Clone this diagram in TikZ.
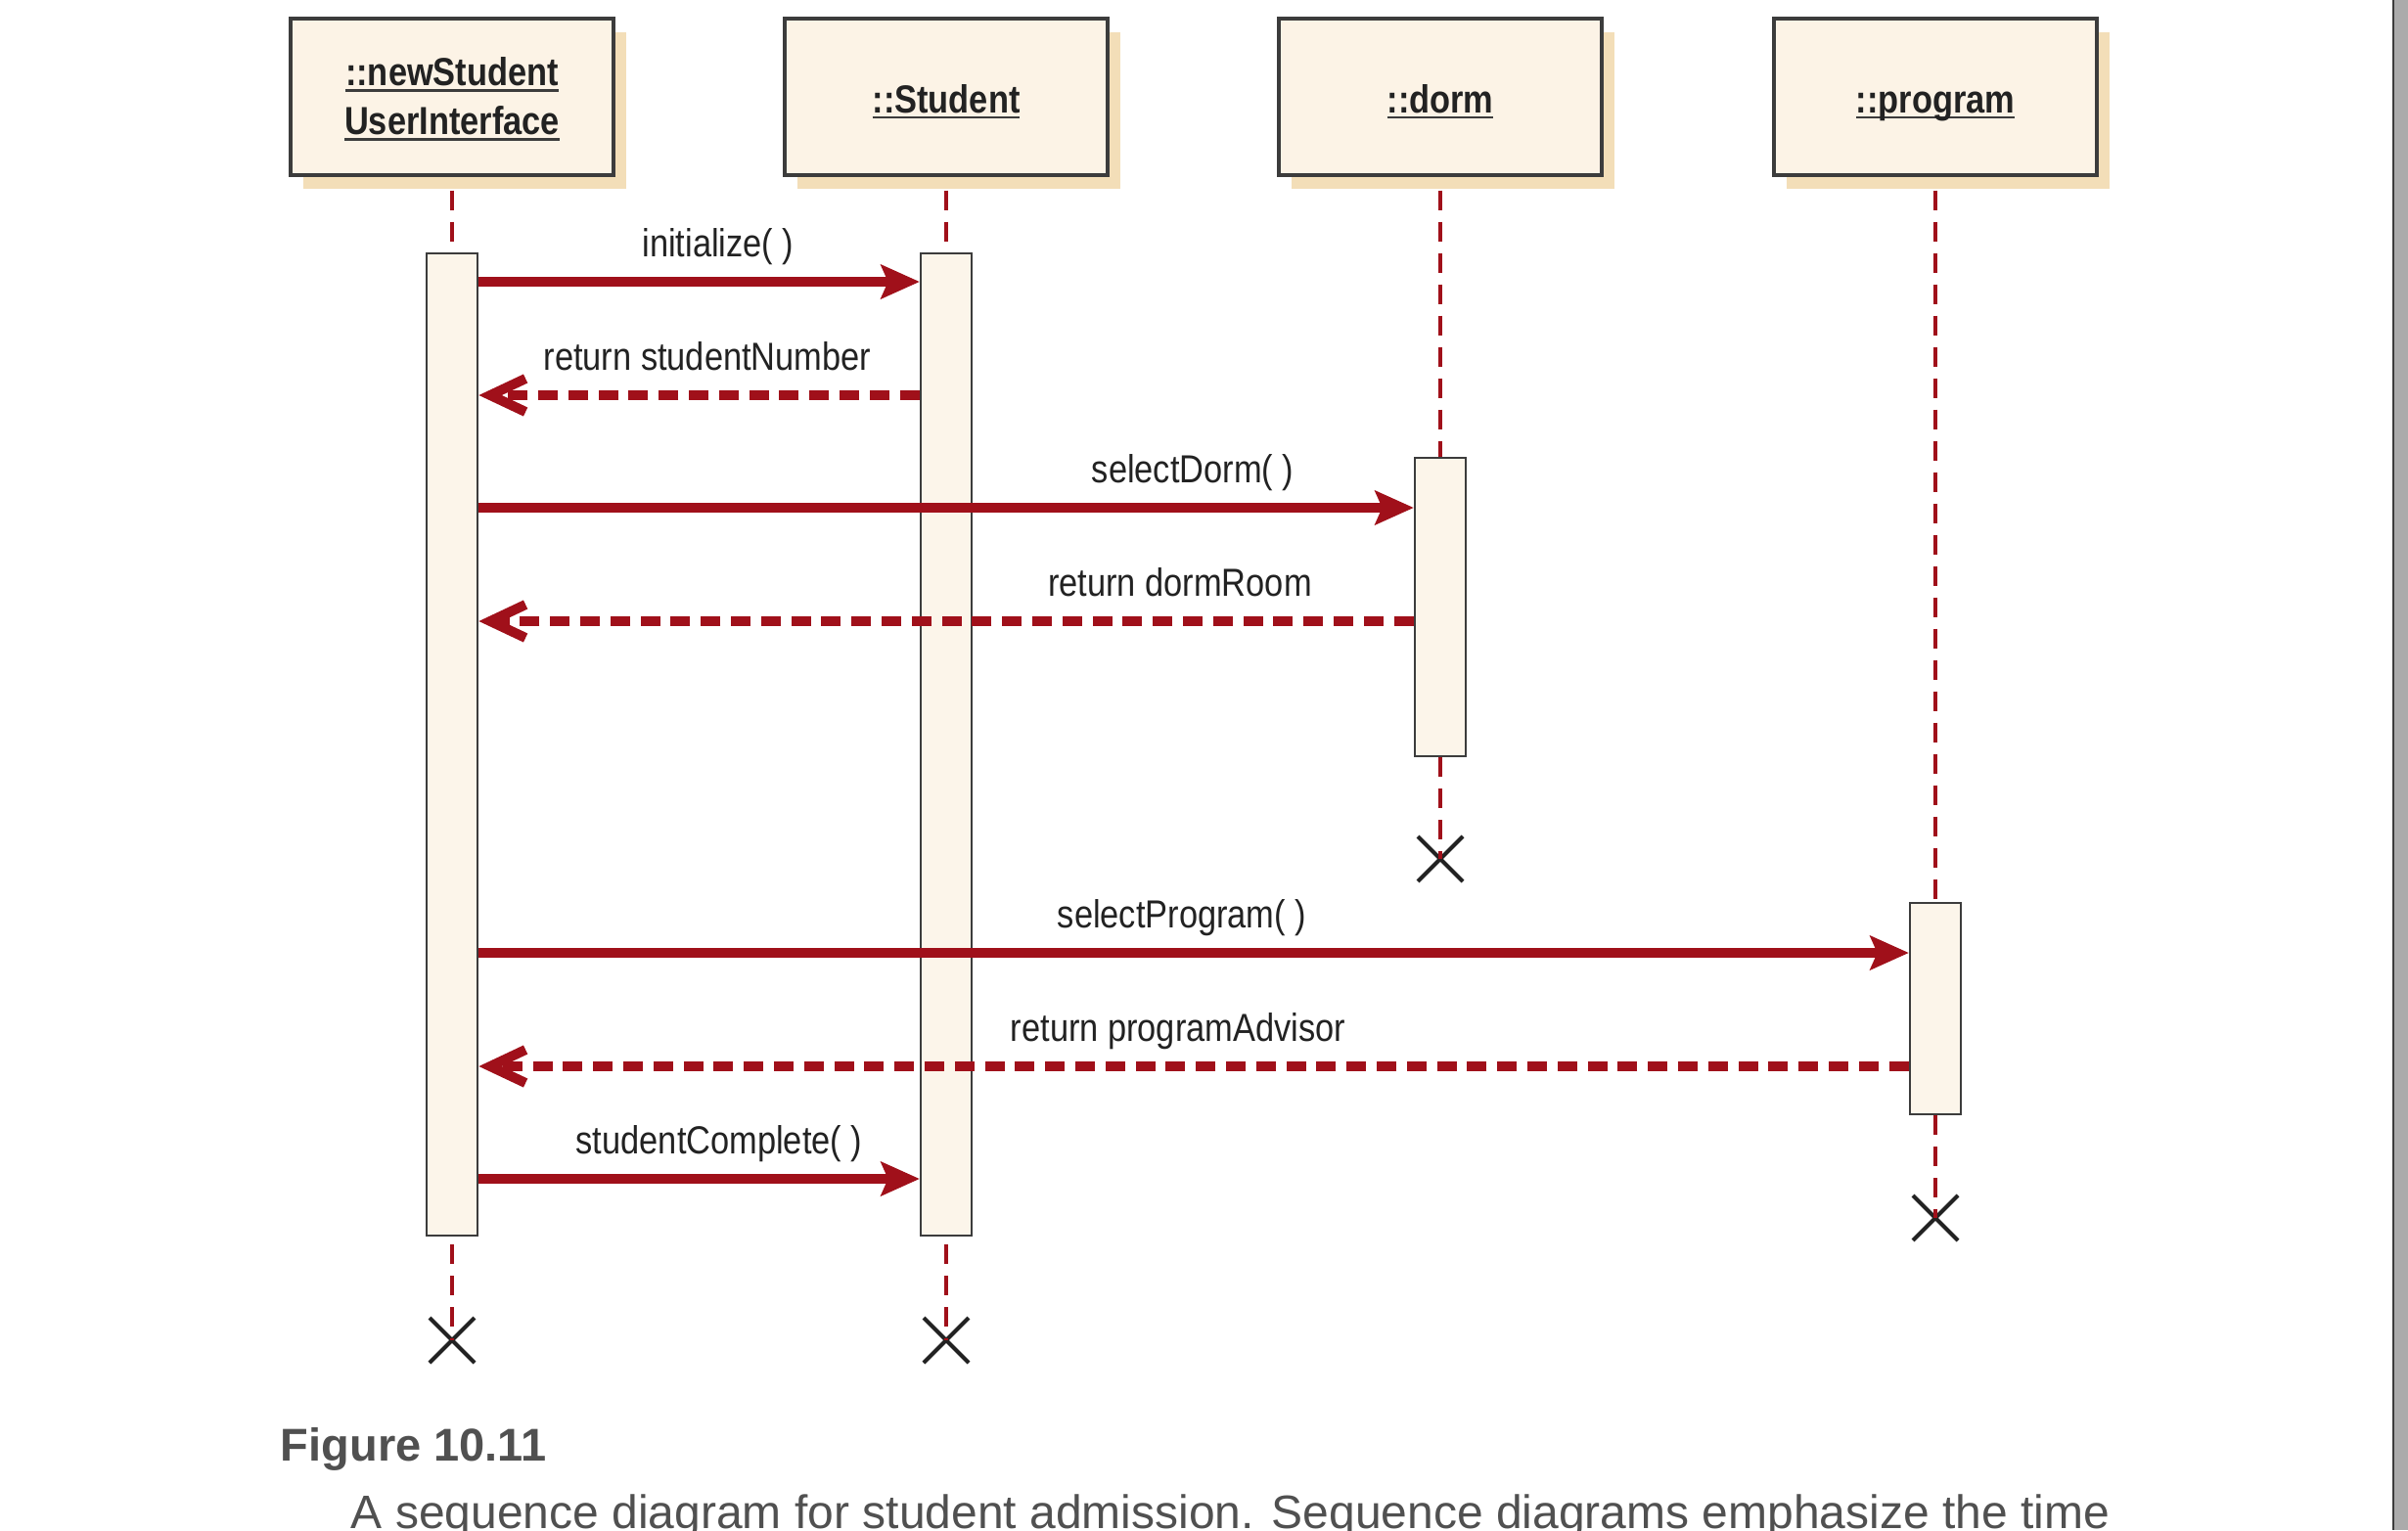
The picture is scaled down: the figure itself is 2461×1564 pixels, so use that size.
\documentclass[tikz,border=0pt]{standalone}
\usepackage{fontspec}
\setmainfont{Liberation Sans}
\newfontfamily\umlfont{Liberation Sans}[FakeStretch=0.86]
\usetikzlibrary{arrows.meta,shapes.misc,shadows}

\definecolor{msgred}{RGB}{160,16,26}
\definecolor{boxfill}{RGB}{252,243,230}
\definecolor{barfill}{RGB}{252,245,234}
\definecolor{boxshadow}{RGB}{243,222,184}
\definecolor{boxline}{RGB}{60,60,60}
\definecolor{inktext}{RGB}{34,34,34}
\definecolor{captext}{RGB}{80,80,80}
\definecolor{pageedge}{RGB}{171,171,171}

\newcommand{\headul}[1]{\setbox0\hbox{#1}\rlap{\color{boxline}\vrule width\wd0 height -0.9pt depth 1.6pt}\box0}

\begin{document}
\begin{tikzpicture}[x=0.25pt, y=-0.25pt,
    head/.style={draw=boxline, line width=0.8pt, fill=boxfill, minimum width=82.5pt, minimum height=40pt, inner sep=0pt, align=center, text=inktext, font=\umlfont\bfseries\fontsize{10}{12.5}\selectfont, drop shadow={shadow xshift=3.25pt, shadow yshift=-3.5pt, fill=boxshadow, opacity=1}},
    headone/.style={head, text height=10pt, text depth=2pt},
    bar/.style={draw=boxline, line width=0.7pt, fill=barfill, minimum width=13pt, inner sep=0pt},
    lifeline/.style={draw=msgred, line width=1.2pt, dash pattern=on 5pt off 3pt},
    call/.style={draw=msgred, line width=2.5pt, -{Stealth[length=10pt, width=9pt, inset=2pt, line width=0.3pt]}},
    reply/.style={draw=msgred, line width=2.5pt, dash pattern=on 5pt off 2.7pt, -{Straight Barb[length=9pt, width=8.5pt]}},
    msg/.style={anchor=base, inner sep=0pt, text=inktext, font=\umlfont\fontsize{10}{12}\selectfont},
    stop/.style={cross out, draw=inktext, line width=1pt, minimum size=10.5pt, inner sep=0pt}]
        \useasboundingbox (0,0) rectangle (2461,1564);

        \node[head, text depth=0.4pt] (ui) at (462,99) {\headul{::newStudent}\\\headul{UserInterface}};
        \node[headone] (student) at (967,99) {\headul{::Student}};
        \node[headone] (dorm) at (1472,99) {\headul{::dorm}};
        \node[headone] (program) at (1978,99) {\headul{::program}};

        \node[bar, minimum height=251pt] (uibar) at (462,761) {};
        \node[bar, minimum height=251pt] (studbar) at (967,761) {};
        \node[bar, minimum height=76.25pt] (dormbar) at (1472,620.5) {};
        \node[bar, minimum height=54pt] (progbar) at (1978,1031) {};

        \node[stop] (uiend) at (462,1370) {};
        \node[stop] (studend) at (967,1370) {};
        \node[stop] (dormend) at (1472,878) {};
        \node[stop] (progend) at (1978,1245) {};

        \draw[lifeline] ([yshift=-3.5pt]ui.south) -- (uibar.north);
        \draw[lifeline] ([yshift=-3.5pt]student.south) -- (studbar.north);
        \draw[lifeline] ([yshift=-3.5pt]dorm.south) -- (dormbar.north);
        \draw[lifeline] ([yshift=-3.5pt]program.south) -- (progbar.north);
        \draw[lifeline] ([yshift=-2pt]uibar.south) -- (uiend.center);
        \draw[lifeline] ([yshift=-2pt]studbar.south) -- (studend.center);
        \draw[lifeline] (dormbar.south) -- (dormend.center);
        \draw[lifeline] (progbar.south) -- (progend.center);

        \coordinate (m1) at (0,288);
        \coordinate (m2) at (0,404);
        \coordinate (m3) at (0,519);
        \coordinate (m4) at (0,635);
        \coordinate (m5) at (0,974);
        \coordinate (m6) at (0,1090);
        \coordinate (m7) at (0,1205);

        \draw[call] (uibar.east |- m1) -- (studbar.west |- m1);
        \draw[reply] (studbar.west |- m2) -- (uibar.east |- m2);
        \draw[call] (uibar.east |- m3) -- (dormbar.west |- m3);
        \draw[reply] (dormbar.west |- m4) -- (uibar.east |- m4);
        \draw[call] (uibar.east |- m5) -- (progbar.west |- m5);
        \draw[reply] (progbar.west |- m6) -- (uibar.east |- m6);
        \draw[call] (uibar.east |- m7) -- (studbar.west |- m7);

        \node[msg] (l1) at (734,262) {initialize( )};
        \node[msg] (l2) at (723,378) {return studentNumber};
        \node[msg] (l3) at (1219,493) {selectDorm( )};
        \node[msg] (l4) at (1206,609) {return dormRoom};
        \node[msg] (l5) at (1208,948) {selectProgram( )};
        \node[msg] (l6) at (1204,1064) {return programAdvisor};
        \node[msg] (l7) at (735,1179) {studentComplete( )};

        \node[anchor=base west, inner sep=0pt, text=captext, font=\bfseries\fontsize{11.75}{14}\selectfont] (figno) at (286,1493) {Figure 10.11};
        \node[anchor=base west, inner sep=0pt, text=captext, font=\fontsize{12}{14}\selectfont] (figtext) at (358,1562) {A sequence diagram for student admission. Sequence diagrams emphasize the time};

        \fill[boxline] (2445,0) rectangle (2447,1564);
        \fill[pageedge] (2447,0) rectangle (2461,1564);
    \end{tikzpicture}
\end{document}
